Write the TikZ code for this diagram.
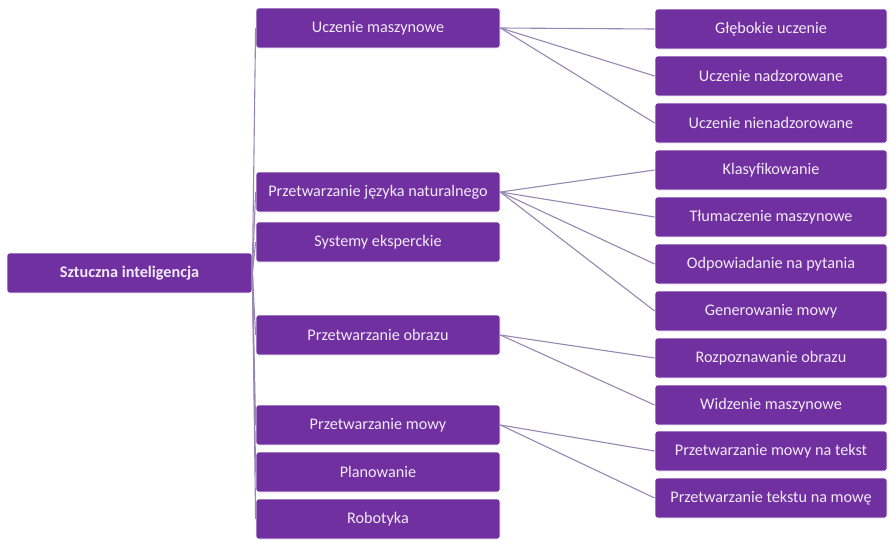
\documentclass[tikz,border=0pt]{standalone}
\usepackage{fontspec}
\setmainfont{Carlito}
\definecolor{fiolet}{RGB}{112,48,160}
\definecolor{napis}{RGB}{242,234,250}
\definecolor{linia}{RGB}{150,136,178}
\begin{document}
\begin{tikzpicture}[x=1pt,y=-1pt,
		pole/.style={rectangle,rounded corners=2.5pt,fill=fiolet,draw=white,line width=0.8pt,text=napis,inner sep=0pt,minimum height=40pt,font=\fontsize{16.2}{18}\selectfont},
		poz1/.style={pole,minimum width=244pt},
		poz2/.style={pole,minimum width=232pt},
		polacz/.style={draw=linia,line width=1.1pt}]
		\useasboundingbox (0,0) rectangle (889,539);
		\def\xa{378}
		\def\xb{771}
		% korzen
		\node[pole,minimum width=245pt,font=\fontsize{16.2}{18}\selectfont\bfseries] (si) at (129.5,273) {Sztuczna inteligencja};
		% pierwszy poziom
		\node[poz1] (um) at (\xa,28) {Uczenie maszynowe};
		\node[poz1] (pjn) at (\xa,192) {Przetwarzanie języka naturalnego};
		\node[poz1] (se) at (\xa,242) {Systemy eksperckie};
		\node[poz1] (po) at (\xa,335) {Przetwarzanie obrazu};
		\node[poz1] (pm) at (\xa,425) {Przetwarzanie mowy};
		\node[poz1] (pl) at (\xa,472) {Planowanie};
		\node[poz1] (ro) at (\xa,519) {Robotyka};
		% drugi poziom
		\node[poz2] (gu) at (\xb,29) {Głębokie uczenie};
		\node[poz2] (un) at (\xb,76) {Uczenie nadzorowane};
		\node[poz2] (unn) at (\xb,123) {Uczenie nienadzorowane};
		\node[poz2] (kl) at (\xb,170) {Klasyfikowanie};
		\node[poz2] (tm) at (\xb,217) {Tłumaczenie maszynowe};
		\node[poz2] (op) at (\xb,264) {Odpowiadanie na pytania};
		\node[poz2] (gm) at (\xb,311) {Generowanie mowy};
		\node[poz2] (ro2) at (\xb,358) {Rozpoznawanie obrazu};
		\node[poz2] (wm) at (\xb,405) {Widzenie maszynowe};
		\node[poz2] (mt) at (\xb,451) {Przetwarzanie mowy na tekst};
		\node[poz2] (tmw) at (\xb,498) {Przetwarzanie tekstu na mowę};
		% polaczenia
		\foreach \n in {um,pjn,se,po,pm,pl,ro}
			\draw[polacz] (si.east) -- (\n.west);
		\foreach \n in {gu,un,unn}
			\draw[polacz] (um.east) -- (\n.west);
		\foreach \n in {kl,tm,op,gm}
			\draw[polacz] (pjn.east) -- (\n.west);
		\foreach \n in {ro2,wm}
			\draw[polacz] (po.east) -- (\n.west);
		\foreach \n in {mt,tmw}
			\draw[polacz] (pm.east) -- (\n.west);
\end{tikzpicture}
\end{document}
